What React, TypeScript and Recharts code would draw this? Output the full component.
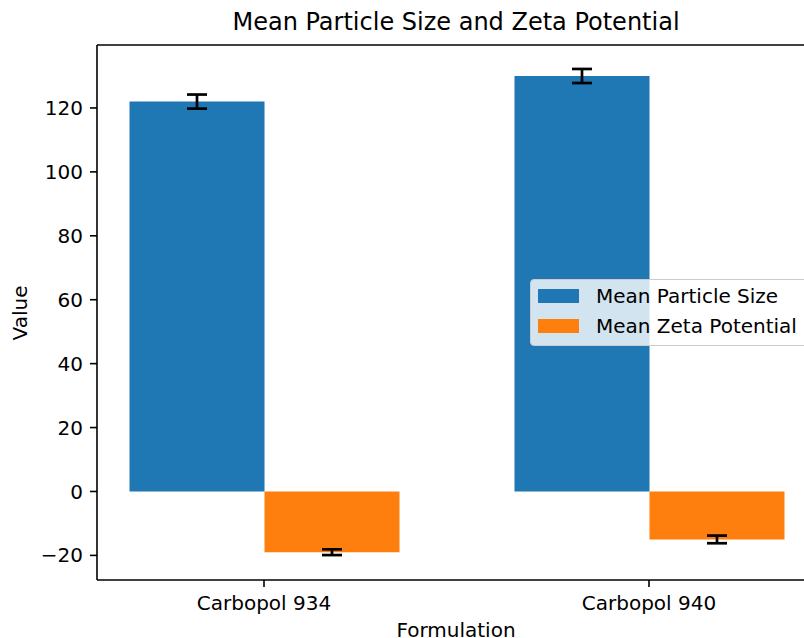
import React from 'react';
import { BarChart, Bar, XAxis, YAxis, ErrorBar, Legend, ReferenceLine } from 'recharts';

const categories = ['Carbopol 934', 'Carbopol 940'];
const meanParticleSize = [122, 130];
const particleSizeError = [2.2, 2.2];
const meanZetaPotential = [-19, -15];
const zetaPotentialError = [0.9, 1.2];
const yTicks = [-20, 0, 20, 40, 60, 80, 100, 120];
const yDomain: [number, number] = [-27.7, 139.7];

const data = categories.map((name, i) => ({
  name,
  size: meanParticleSize[i],
  sizeErr: particleSizeError[i],
  zeta: meanZetaPotential[i],
  zetaErr: zetaPotentialError[i],
}));

const FONT = '"DejaVu Sans", sans-serif';

const renderLegend = (props: any) => {
  const payload = props.payload || [];
  return (
    <div
      style={{
        position: 'relative',
        boxSizing: 'border-box',
        width: 300,
        height: 67,
        background: 'rgba(255,255,255,0.8)',
        border: '1px solid #cccccc',
        borderRadius: 4,
        fontFamily: FONT,
        fontSize: 20,
        color: '#000',
      }}
    >
      {payload.map((entry: any, i: number) => (
        <div
          key={i}
          style={{
            position: 'absolute',
            left: 7,
            top: 6 + i * 30,
            height: 20,
            display: 'flex',
            alignItems: 'center',
            whiteSpace: 'nowrap',
          }}
        >
          <div style={{ width: 41, height: 14, background: entry.color, marginRight: 17 }} />
          <span>{entry.value}</span>
        </div>
      ))}
    </div>
  );
};

const formatY = (v: number) => String(v).replace('-', '\u2212');

export default function App() {
  return (
    <div
      style={{
        position: 'absolute',
        left: 0,
        top: 0,
        width: 804,
        height: 638,
        overflow: 'hidden',
        background: '#fff',
      }}
    >
      <BarChart
        width={830}
        height={638}
        data={data}
        margin={{ top: 45, right: 14, bottom: 0, left: 0 }}
        barGap={0}
      >
        <XAxis
          dataKey="name"
          height={58}
          padding={{ left: -25.5, right: -25.5 }}
          axisLine={{ stroke: '#000', strokeWidth: 1.6 }}
          tickLine={{ stroke: '#000', strokeWidth: 1.6 }}
          tickSize={7}
          tickMargin={9}
          tick={{ fill: '#000', fontSize: 20, fontFamily: FONT }}
        />
        <YAxis
          type="number"
          width={97}
          domain={yDomain}
          ticks={yTicks}
          allowDataOverflow
          tickFormatter={formatY}
          axisLine={{ stroke: '#000', strokeWidth: 1.6 }}
          tickLine={{ stroke: '#000', strokeWidth: 1.6 }}
          tickSize={7}
          tickMargin={7}
          tick={{ fill: '#000', fontSize: 20, fontFamily: FONT }}
        />
        <ReferenceLine y={yDomain[1]} stroke="#000" strokeWidth={1.6} ifOverflow="visible" />
        <Bar dataKey="size" name="Mean Particle Size" fill="#1f77b4" barSize={135} isAnimationActive={false}>
          <ErrorBar dataKey="sizeErr" width={10} stroke="#000" strokeWidth={2.7} direction="y" isAnimationActive={false} />
        </Bar>
        <Bar dataKey="zeta" name="Mean Zeta Potential" fill="#ff7f0e" barSize={135} isAnimationActive={false}>
          <ErrorBar dataKey="zetaErr" width={10} stroke="#000" strokeWidth={2.7} direction="y" isAnimationActive={false} />
        </Bar>
        <Legend
          layout="horizontal"
          verticalAlign="middle"
          align="center"
          content={renderLegend}
          wrapperStyle={{ left: 530, top: 279, width: 300, height: 67 }}
        />
      </BarChart>
      <svg
        width={804}
        height={638}
        style={{ position: 'absolute', left: 0, top: 0, pointerEvents: 'none' }}
      >
        <text x={456} y={30} textAnchor="middle" fontFamily={FONT} fontSize={24} fill="#000">
          Mean Particle Size and Zeta Potential
        </text>
        <text x={456} y={637} textAnchor="middle" fontFamily={FONT} fontSize={20} fill="#000">
          Formulation
        </text>
        <text
          x={0}
          y={0}
          transform="translate(27,313) rotate(-90)"
          textAnchor="middle"
          fontFamily={FONT}
          fontSize={20}
          fill="#000"
        >
          Value
        </text>
      </svg>
    </div>
  );
}
